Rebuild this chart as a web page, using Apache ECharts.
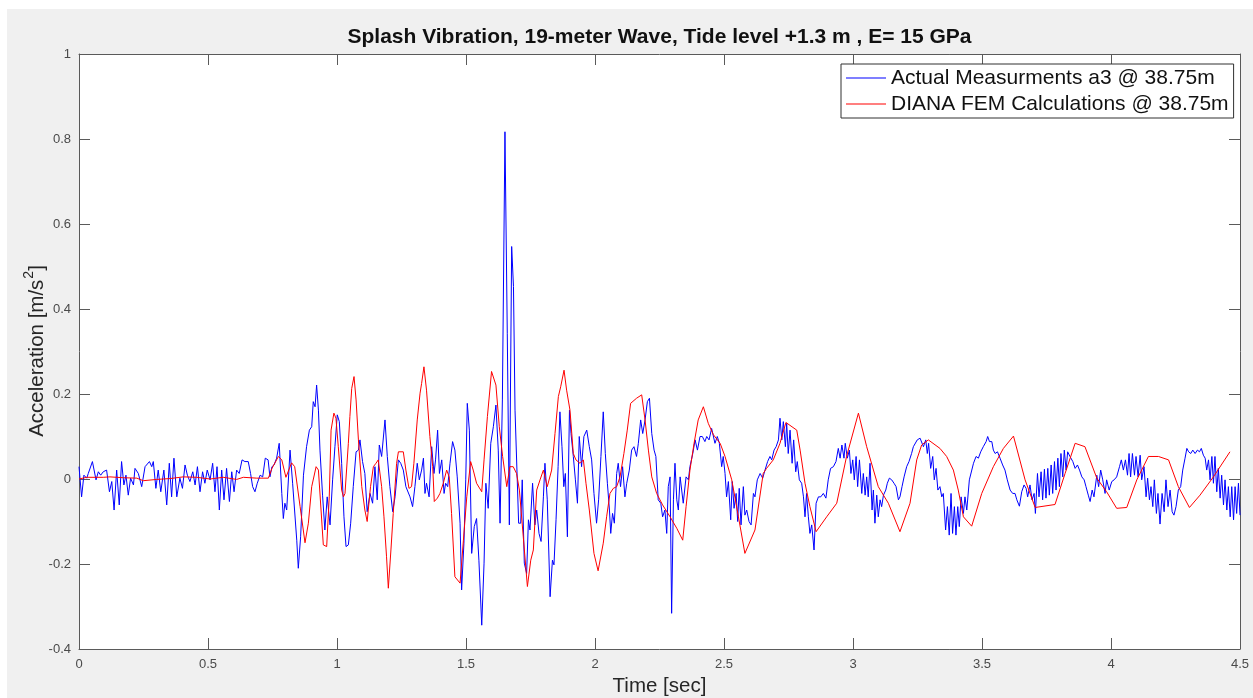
<!DOCTYPE html>
<html>
<head>
<meta charset="utf-8">
<script src="https://cdn.jsdelivr.net/npm/echarts@6/dist/echarts.min.js"></script>
<style>
  html, body { margin: 0; padding: 0; background: #ffffff; }
  #frame { position: absolute; left: 7px; top: 9px; width: 1246px; height: 689px; background: #f0f0f0; }
  #chart { position: absolute; left: 0; top: 0; width: 1253px; height: 698px; }
</style>
</head>
<body>
<div id="frame"></div>
<div id="chart"></div>
<script>
// Measured acceleration at sensor a3 (38.75 m): times [s] of the trace vertices
const blueT = [
  0, 0.010, 0.019, 0.030, 0.036, 0.052, 0.066, 0.075, 0.084, 0.094, 0.107, 0.118, 0.127, 0.136, 0.146, 0.156,
  0.165, 0.174, 0.182, 0.191, 0.200, 0.211, 0.217, 0.230, 0.243, 0.256, 0.273, 0.282, 0.288, 0.298, 0.307, 0.317,
  0.329, 0.340, 0.350, 0.359, 0.368, 0.379, 0.391, 0.401, 0.411, 0.420, 0.430, 0.441, 0.450, 0.459, 0.469, 0.479,
  0.488, 0.497, 0.508, 0.518, 0.527, 0.535, 0.544, 0.553, 0.562, 0.572, 0.583, 0.592, 0.601, 0.611, 0.621, 0.632,
  0.643, 0.656, 0.665, 0.673, 0.682, 0.691, 0.702, 0.712, 0.722, 0.733, 0.740, 0.748, 0.756, 0.766, 0.776, 0.786,
  0.792, 0.798, 0.805, 0.818, 0.828, 0.844, 0.850, 0.859, 0.870, 0.882, 0.893, 0.902, 0.908, 0.915, 0.921, 0.928,
  0.934, 0.944, 0.953,
  0.962, 0.973, 0.983, 0.992, 1.001, 1.009, 1.018, 1.027, 1.035, 1.044, 1.053, 1.063, 1.074, 1.083, 1.089, 1.099,
  1.108, 1.117, 1.128, 1.138, 1.147, 1.156, 1.164, 1.173, 1.186, 1.195, 1.205, 1.216, 1.225, 1.238, 1.247, 1.257,
  1.267, 1.283, 1.293, 1.302, 1.311, 1.319, 1.328, 1.335, 1.341, 1.347, 1.357, 1.367, 1.376, 1.382, 1.390, 1.397,
  1.406, 1.415, 1.421, 1.429, 1.438, 1.448, 1.457, 1.466, 1.477, 1.483, 1.492, 1.499, 1.505, 1.513, 1.522, 1.532,
  1.541, 1.550, 1.561, 1.570, 1.577, 1.586, 1.596, 1.606, 1.616, 1.625, 1.632,
  1.641, 1.651, 1.660, 1.668, 1.677, 1.684, 1.690, 1.696, 1.704, 1.712, 1.718, 1.726, 1.735, 1.742, 1.748, 1.758,
  1.767, 1.774, 1.783, 1.791, 1.800, 1.806, 1.815, 1.826, 1.835, 1.841, 1.849, 1.857, 1.864, 1.872, 1.879, 1.885,
  1.893, 1.901, 1.907, 1.916, 1.924, 1.932, 1.939, 1.948, 1.957, 1.968, 1.978, 1.987, 1.996, 2.006, 2.014, 2.023,
  2.032, 2.040, 2.048, 2.056, 2.061, 2.068, 2.075, 2.084, 2.090, 2.099, 2.107, 2.116, 2.123, 2.133, 2.142, 2.151,
  2.161, 2.168, 2.177, 2.185, 2.194, 2.203, 2.211, 2.220, 2.229, 2.236, 2.245, 2.255, 2.262, 2.271, 2.278, 2.284,
  2.291, 2.297, 2.304, 2.310, 2.317, 2.323, 2.330, 2.342, 2.353, 2.362, 2.368, 2.379, 2.388, 2.397, 2.407, 2.416,
  2.426, 2.433, 2.442, 2.452, 2.459, 2.465, 2.474, 2.482, 2.491, 2.497, 2.504, 2.510, 2.517, 2.526, 2.532, 2.539,
  2.547, 2.553, 2.559, 2.566, 2.575, 2.581, 2.588, 2.597, 2.605, 2.614, 2.620, 2.629, 2.640, 2.650, 2.659, 2.669,
  2.678, 2.685, 2.694, 2.702, 2.711, 2.717, 2.724, 2.730, 2.738, 2.743, 2.749, 2.756, 2.764, 2.770, 2.778, 2.784,
  2.792, 2.801, 2.808, 2.814, 2.820, 2.827, 2.833, 2.840, 2.849, 2.857, 2.866, 2.875, 2.885, 2.895, 2.904, 2.913,
  2.924, 2.934, 2.943, 2.950, 2.957, 2.965, 2.970, 2.978, 2.986, 2.992, 2.999, 3.005, 3.012, 3.018, 3.025, 3.034,
  3.040, 3.047, 3.053, 3.059, 3.066, 3.074, 3.079, 3.085, 3.092, 3.098, 3.105, 3.111, 3.118, 3.127, 3.133, 3.141,
  3.150, 3.159, 3.167, 3.176, 3.182, 3.190, 3.198, 3.208, 3.217, 3.227, 3.234, 3.240, 3.249, 3.260, 3.266, 3.273,
  3.282, 3.288, 3.293, 3.301, 3.309, 3.315, 3.322, 3.329, 3.337, 3.344, 3.350, 3.359, 3.366, 3.373, 3.380, 3.386,
  3.393, 3.399, 3.406, 3.412, 3.419, 3.428, 3.434, 3.441, 3.451,
  3.467, 3.477, 3.486, 3.495, 3.505, 3.516, 3.522, 3.529, 3.538, 3.544, 3.551, 3.560, 3.570, 3.580, 3.589, 3.598,
  3.609, 3.619, 3.628, 3.635, 3.645, 3.654, 3.663, 3.671, 3.677, 3.686, 3.694, 3.702, 3.707, 3.715, 3.721, 3.729,
  3.735, 3.742, 3.748, 3.755, 3.761, 3.768, 3.774, 3.781, 3.787, 3.794, 3.800, 3.806, 3.813, 3.819, 3.826, 3.832,
  3.841, 3.852, 3.861, 3.870, 3.878, 3.887, 3.896, 3.903, 3.912, 3.919, 3.927, 3.934, 3.945, 3.952, 3.960, 3.968,
  3.977, 3.983, 3.993, 4.003, 4.012, 4.022, 4.033, 4.040, 4.048, 4.056, 4.064, 4.070, 4.076, 4.083, 4.091, 4.097,
  4.105, 4.113, 4.119, 4.128, 4.136, 4.142, 4.149, 4.155, 4.162, 4.168, 4.176, 4.182, 4.190, 4.198, 4.206, 4.213,
  4.221, 4.229, 4.237, 4.244, 4.252, 4.261, 4.270, 4.278, 4.287, 4.294, 4.301, 4.309, 4.317, 4.326, 4.335, 4.343,
  4.350, 4.358, 4.365, 4.371, 4.378, 4.384, 4.391, 4.397, 4.403, 4.410, 4.416, 4.423, 4.429, 4.436, 4.442, 4.449,
  4.455, 4.462, 4.468, 4.475, 4.481, 4.487, 4.494, 4.500
];
// Measured acceleration [m/s^2] at those times
const blueA = [
  0.029, -0.042, 0.009, 0.002, 0.013, 0.041, -0.002, 0.017, 0.009, 0.017, 0.021, -0.030, -0.006, -0.073, 0.021, -0.061,
  0.041, -0.014, 0.009, -0.038, 0.002, -0.014, 0.025, 0.013, -0.018, 0.029, 0.041, 0.029, 0.041, -0.022, 0.021, -0.030,
  0.021, -0.061, 0.037, -0.042, 0.049, -0.042, 0.002, -0.022, 0.033, 0.009, -0.006, 0.017, -0.014, 0.029, -0.030, 0.017,
  -0.010, 0.021, -0.002, 0.037, -0.030, 0.029, -0.073, 0.021, -0.049, 0.025, -0.053, 0.017, -0.030, 0.021, 0.013, 0.045,
  0.041, 0.041, 0.013, -0.018, -0.030, -0.010, 0.009, 0.005, 0.049, 0.045, 0.005, 0.029, 0.033, 0.049, 0.084, -0.034,
  -0.093, -0.057, -0.073, 0.068, -0.010, -0.144, -0.210, -0.136, 0.009, 0.076, 0.115, 0.123, 0.182, 0.170, 0.221, 0.162,
  0.068, -0.038, -0.120,
  -0.042, -0.108, -0.002, 0.076, 0.151, 0.135, 0.037, -0.089, -0.159, -0.155, -0.104, -0.018, 0.064, 0.068, 0.092, 0.041,
  0.013, -0.077, -0.034, -0.057, 0.029, -0.049, 0.080, 0.053, 0.139, 0.053, -0.018, -0.077, -0.042, 0.045, 0.037, 0.021,
  -0.018, -0.042, -0.065, -0.018, 0.037, -0.002, 0.021, 0.049, -0.034, -0.010, -0.042, 0.076, 0.013, 0.045, 0.115, 0.013,
  0.045, -0.034, -0.010, -0.018, 0.037, 0.088, 0.068, 0.005, -0.104, -0.261, -0.151, -0.002, 0.178, 0.115, -0.175, -0.112,
  -0.093, -0.191, -0.344, -0.198, -0.010, -0.069, 0.084, 0.123, 0.174, 0.068, -0.104,
  0.186, 0.817, 0.343, -0.108, 0.547, 0.453, 0.162, 0.158, -0.104, -0.104, -0.002, -0.198, -0.222, -0.096, -0.120, -0.010,
  -0.108, -0.073, -0.128, -0.147, -0.042, 0.037, -0.049, -0.277, -0.191, -0.202, -0.096, 0.029, 0.158, 0.076, -0.018, 0.013,
  -0.136, 0.162, 0.107, 0.053, -0.002, -0.057, 0.100, 0.029, 0.100, 0.115, 0.076, 0.045, -0.034, -0.104, -0.049, 0.053,
  0.158, 0.060, -0.010, -0.073, -0.128, -0.081, -0.104, 0.013, 0.037, -0.018, 0.029, -0.042, -0.010, 0.021, 0.068, 0.076,
  0.053, 0.084, 0.139, 0.107, 0.139, 0.182, 0.190, 0.107, 0.068, 0.053, -0.049, -0.057, -0.089, -0.073, -0.128, -0.018,
  0.005, -0.316, -0.049, 0.037, -0.049, -0.073, 0.005, -0.057, 0.005, -0.002, 0.029, 0.060, 0.092, 0.068, 0.100, 0.100,
  0.088, 0.100, 0.092, 0.119, 0.123, 0.084, 0.100, 0.084, 0.029, 0.053, 0.013, -0.042, -0.006, -0.096, -0.006, -0.069,
  -0.034, -0.100, -0.022, -0.108, -0.018, -0.085, -0.073, -0.100, -0.108, -0.034, -0.042, -0.002, 0.013, 0.002, 0.021, 0.041,
  0.053, 0.045, 0.068, 0.076, 0.092, 0.143, 0.092, 0.135, 0.076, 0.131, 0.060, 0.115, 0.037, 0.092, 0.017, 0.041,
  -0.002, -0.010, -0.042, -0.089, -0.034, -0.089, -0.128, -0.108, -0.167, -0.057, -0.042, -0.042, -0.034, -0.045, -0.002, 0.025,
  0.029, 0.041, 0.072, 0.049, 0.080, 0.049, 0.084, 0.049, 0.068, 0.013, 0.045, -0.002, 0.053, -0.018, 0.045, -0.034,
  0.013, -0.038, 0.005, -0.042, 0.037, -0.073, -0.026, -0.104, -0.038, -0.089, -0.049, -0.065, -0.038, -0.026, -0.010, 0.002,
  -0.002, -0.010, -0.018, -0.049, -0.042, -0.018, 0.005, 0.029, 0.041, 0.060, 0.076, 0.072, 0.092, 0.096, 0.092, 0.076,
  0.092, 0.060, 0.084, 0.025, 0.053, -0.002, 0.025, -0.026, -0.018, -0.042, -0.034, -0.120, -0.065, -0.132, -0.034, -0.128,
  -0.065, -0.132, -0.065, -0.112, -0.042, -0.081, -0.042, -0.073, -0.002,
  0.037, 0.053, 0.049, 0.064, 0.076, 0.088, 0.100, 0.088, 0.088, 0.068, 0.060, 0.064, 0.049, 0.033, 0.021, -0.002,
  -0.026, -0.034, -0.034, -0.049, -0.064, -0.030, -0.014, -0.022, -0.042, -0.014, -0.049, -0.034, -0.081, 0.013, -0.042, 0.017,
  -0.049, 0.023, -0.045, 0.025, -0.038, 0.033, -0.034, 0.041, -0.026, 0.049, -0.018, 0.060, 0.005, 0.068, 0.021, 0.064,
  0.053, 0.041, 0.025, 0.033, 0.021, 0.005, -0.002, -0.018, -0.038, -0.053, -0.026, -0.042, 0.009, -0.018, 0.021, -0.002,
  -0.034, -0.002, -0.026, -0.006, -0.002, 0.005, 0.029, 0.045, 0.021, 0.045, 0.009, 0.060, 0.005, 0.060, 0.009, 0.053,
  0.005, 0.056, -0.002, 0.029, -0.042, 0.002, -0.049, -0.018, -0.065, -0.002, -0.081, -0.034, -0.106, -0.034, -0.077, -0.002,
  -0.065, -0.026, -0.077, -0.085, -0.065, -0.026, -0.018, 0.021, 0.049, 0.072, 0.064, 0.060, 0.068, 0.060, 0.068, 0.064,
  0.072, 0.056, 0.049, 0.021, 0.045, -0.002, 0.053, -0.010, 0.053, -0.030, 0.025, -0.045, 0.009, -0.061, -0.002, -0.073,
  -0.018, -0.089, -0.018, -0.096, -0.018, -0.081, -0.010, -0.085
];

// DIANA finite-element result at 38.75 m: vertex times [s]
const redT = [
  0, 0.030, 0.094, 0.120, 0.172, 0.224, 0.249, 0.301, 0.353, 0.404, 0.456, 0.508, 0.559, 0.611, 0.637, 0.689,
  0.734, 0.748, 0.773, 0.786, 0.802, 0.824, 0.836, 0.857, 0.876, 0.889, 0.902, 0.919, 0.928, 0.947, 0.960,
  0.970, 0.977, 0.988, 0.996, 1.005, 1.012, 1.018, 1.025, 1.031, 1.044, 1.050, 1.057, 1.066, 1.074, 1.083, 1.096,
  1.108, 1.117, 1.130, 1.141, 1.151, 1.160, 1.173, 1.182, 1.192, 1.199, 1.209, 1.218, 1.231, 1.238, 1.257, 1.267,
  1.279, 1.289, 1.298, 1.311, 1.322, 1.328, 1.337, 1.347, 1.360, 1.371, 1.377, 1.389, 1.399, 1.412, 1.425, 1.435,
  1.444, 1.457, 1.477, 1.490, 1.503, 1.518, 1.528, 1.541, 1.561, 1.570, 1.583, 1.599, 1.616, 1.629, 1.642, 1.658,
  1.670, 1.683, 1.696, 1.707, 1.722, 1.738, 1.751,
  1.761, 1.774, 1.787, 1.800, 1.815, 1.832, 1.845, 1.858, 1.867, 1.880, 1.890, 1.903, 1.916, 1.926, 1.942, 1.955,
  1.965, 1.978, 1.996, 2.012, 2.032, 2.045, 2.058, 2.071, 2.084, 2.097, 2.112, 2.125, 2.138, 2.161, 2.181, 2.194,
  2.207, 2.220, 2.239, 2.262, 2.291, 2.317, 2.340, 2.353, 2.368, 2.384, 2.400, 2.420,
  2.439, 2.459, 2.485, 2.504, 2.530, 2.556, 2.581, 2.620, 2.652, 2.665, 2.691, 2.717, 2.740, 2.782, 2.795, 2.814,
  2.833, 2.857, 2.898, 2.937, 2.975, 3.021, 3.053, 3.098, 3.137, 3.182, 3.221, 3.247, 3.266, 3.292, 3.337, 3.363,
  3.389, 3.408, 3.428,
  3.460, 3.499, 3.544, 3.583, 3.622, 3.667, 3.706, 3.783, 3.822, 3.861, 3.899, 3.945, 3.983, 4.022, 4.061, 4.100,
  4.145, 4.184, 4.223, 4.261, 4.304, 4.345, 4.397, 4.461
];
// Computed acceleration [m/s^2] at those times
const redA = [
  0, 0.004, 0.004, 0.005, 0.003, 0.002, -0.004, -0.001, 0.001, 0.005, 0.004, 0, 0.004, -0.001, 0.004, 0.002,
  0.002, 0.025, 0.053, 0.045, 0.004, 0.038, 0.029, -0.065, -0.150, -0.104, -0.018, 0.029, 0.021, -0.155, -0.159,
  -0.042, 0.115, 0.155, 0.143, 0.076, 0.021, -0.026, -0.042, -0.034, 0.084, 0.147, 0.213, 0.241, 0.186, 0.092, -0.018,
  -0.073, -0.100, -0.018, 0.029, 0.037, 0.045, -0.018, -0.089, -0.183, -0.257, -0.167, -0.081, 0.037, 0.064, 0.064, 0.021,
  -0.022, -0.018, 0.037, 0.139, 0.202, 0.225, 0.264, 0.209, 0.100, 0.029, -0.053, -0.045, -0.034, -0.010, 0.021, 0.005,
  -0.081, -0.230, -0.245, -0.144, -0.042, 0.041, 0.021, -0.010, -0.030, 0.045, 0.147, 0.253, 0.221, 0.123, 0.053, -0.018,
  0.029, 0.029, 0.013, -0.026, -0.136, -0.253, -0.191,
  -0.167, -0.026, -0.002, 0.021, -0.018, 0.021, 0.107, 0.194, 0.217, 0.256, 0.209, 0.162, 0.060, 0.045, 0.037, 0.045,
  -0.010, -0.073, -0.175, -0.216, -0.151, -0.089, -0.034, -0.022, -0.018, 0.005, 0.060, 0.115, 0.178, 0.190, 0.198, 0.139,
  0.068, 0.005, -0.034, -0.061, -0.089, -0.116, -0.144, -0.065, 0.021, 0.084, 0.139, 0.170,
  0.131, 0.104, 0.084, 0.053, -0.002, -0.089, -0.175, -0.120, 0.013, 0.025, 0.045, 0.084, 0.133, 0.115, 0.068, -0.010,
  -0.065, -0.124, -0.089, -0.057, 0.053, 0.155, 0.076, -0.018, -0.057, -0.124, -0.057, 0.045, 0.080, 0.092, 0.072, 0.053,
  0.021, -0.026, -0.089,
  -0.111, -0.034, 0.029, 0.072, 0.101, -0.002, -0.067, -0.060, 0.013, 0.084, 0.076, 0.002, -0.030, -0.069, -0.067, -0.002,
  0.053, 0.053, 0.045, -0.018, -0.067, -0.038, 0.005, 0.064
];

// Axis extents and tick spacing
const timeRange = [0, 4.5];
const timeStep = 0.5;
const accelRange = [-0.4, 1];
const accelStep = 0.2;

const seriesNames = ['Actual Measurments a3 @ 38.75m', 'DIANA FEM Calculations @ 38.75m'];
const titleText = 'Splash Vibration, 19-meter Wave, Tide level +1.3 m , E= 15 GPa';

const pairs = (ts, vs) => ts.map((t, i) => [t, vs[i]]);

const FONT = '"Liberation Sans", Arial, Helvetica, sans-serif';
const axisColor = '#5a5a5a';
const labelColor = '#4a4a4a';

const chart = echarts.init(document.getElementById('chart'), null, { renderer: 'canvas' });

const baseX = {
  type: 'value', min: timeRange[0], max: timeRange[1], interval: timeStep,
  axisLine: { show: true, onZero: false, lineStyle: { color: axisColor, width: 1 } },
  axisTick: { show: true, inside: true, length: 11, lineStyle: { color: axisColor, width: 1 } },
  splitLine: { show: false }
};
const baseY = {
  type: 'value', min: accelRange[0], max: accelRange[1], interval: accelStep,
  axisLine: { show: true, onZero: false, lineStyle: { color: axisColor, width: 1 } },
  axisTick: { show: true, inside: true, length: 11, lineStyle: { color: axisColor, width: 1 } },
  splitLine: { show: false }
};

chart.setOption({
  animation: false,
  backgroundColor: 'transparent',
  graphic: [
    {
      // figure title
      type: 'text', x: 659.5, y: 37,
      style: { text: titleText, fill: '#111111', font: 'bold 21px ' + FONT, textAlign: 'center', textVerticalAlign: 'middle' }
    },
    {
      // vertical axis title, rotated to read bottom-up
      type: 'text', x: 37, y: 351, rotation: Math.PI / 2,
      style: {
        text: 'Acceleration [m/s{sup|2}]',
        fill: '#262626', font: '20.5px ' + FONT,
        textAlign: 'center', textVerticalAlign: 'middle',
        rich: { sup: { font: '14px ' + FONT, fill: '#262626', verticalAlign: 'top', lineHeight: 30, padding: [0, 0, 0, 1] } }
      }
    }
  ],
  grid: {
    left: 79, right: 13, top: 54, bottom: 49,
    outerBoundsMode: 'none', containLabel: false,
    show: true, backgroundColor: '#ffffff', borderWidth: 0
  },
  legend: {
    orient: 'vertical', left: 841, top: 64,
    icon: 'rect', itemWidth: 40, itemHeight: 1, itemGap: 4,
    padding: [3, 5, 3, 5],
    borderColor: '#303030', borderWidth: 1, backgroundColor: '#ffffff',
    textStyle: { fontFamily: FONT, fontSize: 21, lineHeight: 22, color: '#111111' },
    data: seriesNames
  },
  xAxis: [
    Object.assign({}, baseX, {
      position: 'bottom',
      axisLabel: { show: true, margin: 9, color: labelColor, fontSize: 13, fontFamily: FONT },
      name: 'Time [sec]', nameLocation: 'middle', nameGap: 26,
      nameTextStyle: { color: '#262626', fontSize: 20.5, fontFamily: FONT }
    }),
    Object.assign({}, baseX, { position: 'top', axisLabel: { show: false } })
  ],
  yAxis: [
    Object.assign({}, baseY, {
      position: 'left',
      axisLabel: { show: true, margin: 8, color: labelColor, fontSize: 13, fontFamily: FONT }
    }),
    Object.assign({}, baseY, { position: 'right', axisLabel: { show: false } })
  ],
  series: [
    {
      name: seriesNames[0], type: 'line', xAxisIndex: 0, yAxisIndex: 0,
      data: pairs(blueT, blueA), symbol: 'none', showSymbol: false,
      lineStyle: { color: '#0000ff', width: 1 }, itemStyle: { color: '#0000ff' }
    },
    {
      name: seriesNames[1], type: 'line', xAxisIndex: 0, yAxisIndex: 0,
      data: pairs(redT, redA), symbol: 'none', showSymbol: false,
      lineStyle: { color: '#ff0000', width: 1 }, itemStyle: { color: '#ff0000' }
    }
  ]
});
</script>
</body>
</html>
